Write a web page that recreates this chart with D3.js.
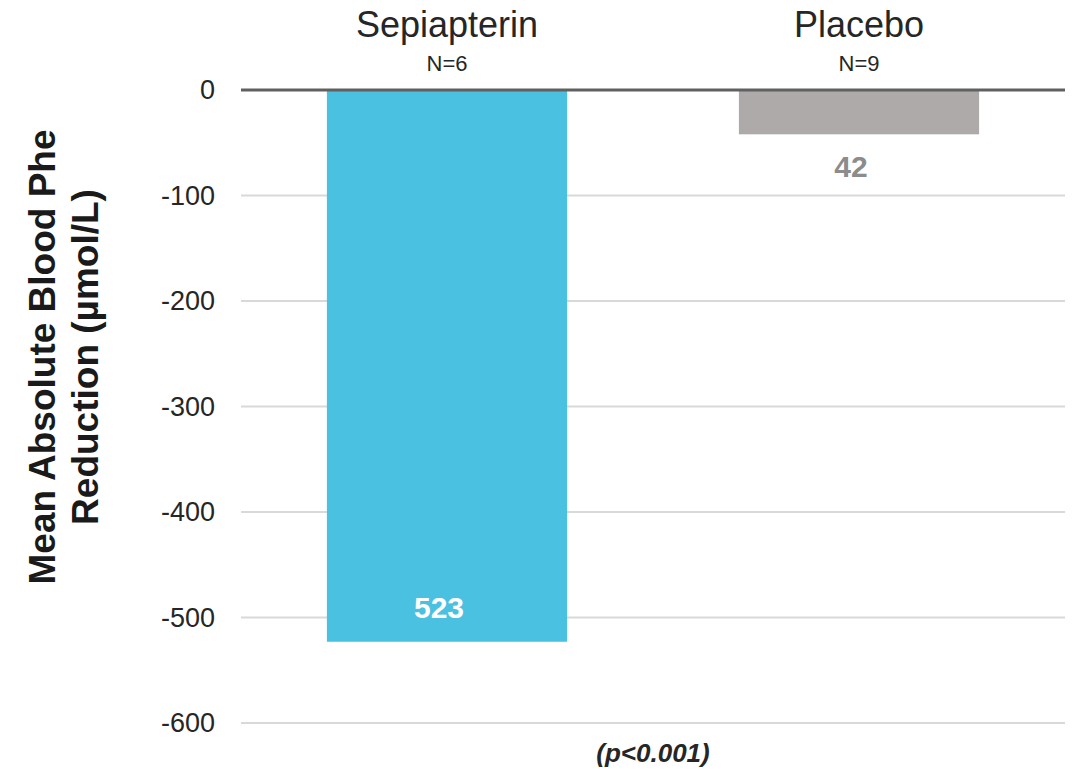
<!DOCTYPE html>
<html><head><meta charset="utf-8">
<script src="https://cdn.jsdelivr.net/npm/d3@7"></script>
<style>body{margin:0;background:#fff;}svg{display:block;font-family:"Liberation Sans",Arial,sans-serif;}</style>
</head><body>
<svg id="chart" width="1076" height="773"></svg>
<script>
const categories = ["Sepiapterin", "Placebo"];
const sampleSizes = ["N=6", "N=9"];
const values = [-523, -42];
const valueLabels = ["523", "42"];
const barColors = ["#4bc1e1", "#aeaaaa"];
const labelColors = ["#ffffff", "#8c8c8c"];
const yTicks = [0, -100, -200, -300, -400, -500, -600];
const yTitle = ["Mean Absolute Blood Phe", "Reduction (µmol/L)"];
const note = "(p<0.001)";

const svg = d3.select("#chart");
const plotLeft = 241, plotRight = 1065, plotTop = 90, plotBottom = 723;

const x = d3.scaleBand().domain(categories).range([plotLeft, plotRight]).paddingInner(0.417).paddingOuter(0.2085);
const y = d3.scaleLinear().domain([0, -600]).range([plotTop, plotBottom]);

// gridlines
svg.append("g").selectAll("line").data(yTicks.filter(d => d !== 0)).join("line")
  .attr("x1", plotLeft).attr("x2", plotRight)
  .attr("y1", d => y(d)).attr("y2", d => y(d))
  .attr("stroke", "#d9d9d9").attr("stroke-width", 2);

// tick labels
svg.append("g").selectAll("text").data(yTicks).join("text")
  .attr("x", 215).attr("y", d => y(d)).attr("dy", "0.35em")
  .attr("text-anchor", "end").attr("font-size", 27).attr("fill", "#262626")
  .text(d => String(d));

// bars
svg.append("g").selectAll("rect").data(categories).join("rect")
  .attr("x", d => x(d)).attr("width", x.bandwidth())
  .attr("y", (d, i) => y(Math.max(0, values[i])))
  .attr("height", (d, i) => Math.abs(y(values[i]) - y(0)))
  .attr("fill", (d, i) => barColors[i]);

// zero line
svg.append("line").attr("x1", plotLeft).attr("x2", plotRight).attr("y1", y(0)).attr("y2", y(0))
  .attr("stroke", "#606060").attr("stroke-width", 3);

// category labels
svg.append("g").selectAll("text").data(categories).join("text")
  .attr("x", d => x(d) + x.bandwidth() / 2).attr("y", 37)
  .attr("text-anchor", "middle").attr("font-size", 36).attr("fill", "#262626")
  .text(d => d);
svg.append("g").selectAll("text").data(sampleSizes).join("text")
  .attr("x", (d, i) => x(categories[i]) + x.bandwidth() / 2).attr("y", 71)
  .attr("text-anchor", "middle").attr("font-size", 22).attr("fill", "#262626")
  .text(d => d);

// value labels
svg.append("g").selectAll("text").data(valueLabels).join("text")
  .attr("x", (d, i) => x(categories[i]) + x.bandwidth() / 2 - 8)
  .attr("y", (d, i) => i === 0 ? y(values[i]) - 24 : y(values[i]) + 43)
  .attr("text-anchor", "middle").attr("font-size", 30).attr("font-weight", "bold")
  .attr("fill", (d, i) => labelColors[i])
  .text(d => d);

// y title
const t = svg.append("text").attr("transform", "translate(0,357) rotate(-90)")
  .attr("text-anchor", "middle").attr("font-size", 37).attr("font-weight", "bold").attr("fill", "#1a1a1a");
t.append("tspan").attr("x", 0).attr("y", 55).text(yTitle[0]);
t.append("tspan").attr("x", 0).attr("y", 98).text(yTitle[1]);

// note
svg.append("text").attr("x", (plotLeft + plotRight) / 2).attr("y", 762)
  .attr("text-anchor", "middle").attr("font-size", 26).attr("font-weight", "bold")
  .attr("font-style", "italic").attr("fill", "#262626").text(note);
</script>
</body></html>
